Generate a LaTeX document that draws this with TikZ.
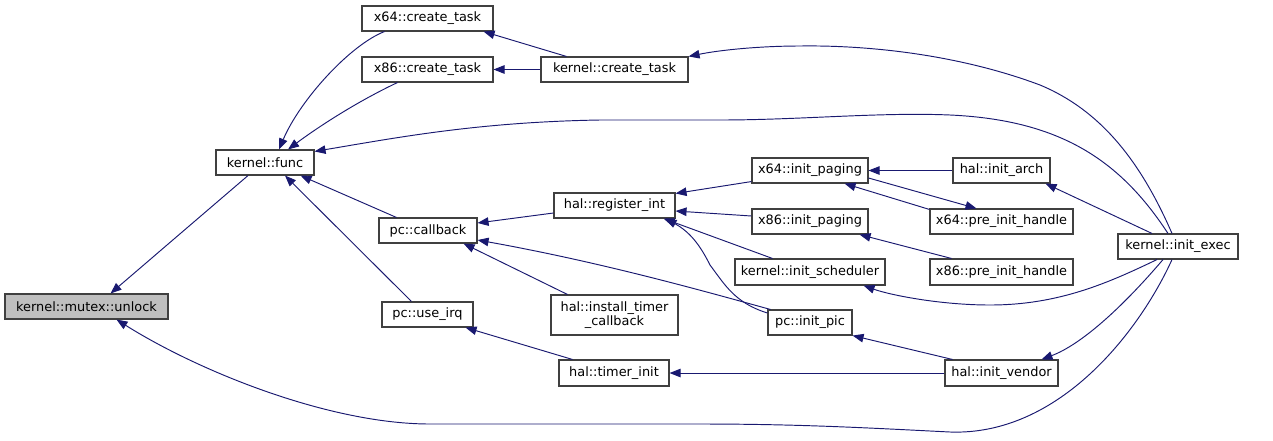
\documentclass[tikz,border=0pt]{standalone}
\usepackage{fontspec}
\setmainfont{DejaVu Sans}
\usetikzlibrary{arrows.meta}
\definecolor{edgeblue}{HTML}{191970}
\definecolor{nodeborder}{HTML}{404040}
\definecolor{hilite}{HTML}{BFBFBF}
\tikzset{
  box/.style={draw=nodeborder, line width=1.1pt, fill=white, inner sep=0pt, align=center,
    font=\fontsize{12.9}{14}\selectfont, text=black},
  edge/.style={draw=edgeblue, line width=0.95pt, -{Triangle[length=11pt,width=8.5pt]}, fill=none},
}
\begin{document}
\begin{tikzpicture}[x=1pt,y=-1pt]
\useasboundingbox (0,0) rectangle (1273,440);
% nodes
\node[box, fill=hilite, minimum width=163, minimum height=25] (unlock) at (86.5,306.5) {kernel::mutex::unlock};
\node[box, minimum width=98, minimum height=25] (func) at (265,162.5) {kernel::func};
\node[box, minimum width=131, minimum height=25] (x64ct) at (427.5,18.5) {x64::create\_task};
\node[box, minimum width=131, minimum height=25] (x86ct) at (427.5,69.5) {x86::create\_task};
\node[box, minimum width=147, minimum height=25] (kct) at (614.5,69.5) {kernel::create\_task};
\node[box, minimum width=98, minimum height=25] (cb) at (428,230.5) {pc::callback};
\node[box, minimum width=91, minimum height=25] (irq) at (427.5,314.5) {pc::use\_irq};
\node[box, minimum width=121, minimum height=25] (reg) at (614.5,205.5) {hal::register\_int};
\node[box, minimum width=127, minimum height=40] (itc) at (614.5,315) {hal::install\_timer\\\_callback};
\node[box, minimum width=110, minimum height=26] (ti) at (614,373) {hal::timer\_init};
\node[box, minimum width=116, minimum height=25] (x64ip) at (810,170.5) {x64::init\_paging};
\node[box, minimum width=116, minimum height=25] (x86ip) at (810,221.5) {x86::init\_paging};
\node[box, minimum width=150, minimum height=26] (sched) at (810,272) {kernel::init\_scheduler};
\node[box, minimum width=84, minimum height=25] (pic) at (810,322.5) {pc::init\_pic};
\node[box, minimum width=97, minimum height=25] (arch) at (1001.5,170.5) {hal::init\_arch};
\node[box, minimum width=143, minimum height=25] (x64pih) at (1001.5,221.5) {x64::pre\_init\_handle};
\node[box, minimum width=143, minimum height=26] (x86pih) at (1001.5,272) {x86::pre\_init\_handle};
\node[box, minimum width=113, minimum height=26] (vendor) at (1001.5,373) {hal::init\_vendor};
\node[box, minimum width=120, minimum height=25] (exec) at (1178,246.5) {kernel::init\_exec};
% edges
\draw[edge] ([xshift=-17]func.south) -- ([xshift=24]unlock.north);
\draw[edge] ([xshift=-6]exec.south) .. controls (1140,330) and (1060,436) .. (950,432)
   .. controls (870,428) and (800,424) .. (700,424) -- (430,424)
   .. controls (330,424) and (200,372) .. ([xshift=30]unlock.south);
\draw[edge] ([xshift=23]x64ct.south west) .. controls (350,45) and (300,100) .. ([xshift=14]func.north);
\draw[edge] ([xshift=36]x86ct.south west) .. controls (350,105) and (310,133) .. ([xshift=23]func.north);
\draw[edge] ([xshift=-10]exec.north) .. controls (1120,160) and (1060,120) .. (950,115)
   .. controls (880,112) and (800,120) .. (720,120) -- (600,120)
   .. controls (480,122) and (400,137) .. ([yshift=-2]func.north east);
\draw[edge] ([xshift=18]cb.north west) -- ([xshift=-14]func.south east);
\draw[edge] ([xshift=30]irq.north west) -- ([xshift=20]func.south);
\draw[edge] ([xshift=26]kct.north west) -- ([xshift=-10]x64ct.south east);
\draw[edge] (kct.west) -- (x86ct.east);
\draw[edge] ([xshift=-6]exec.north) .. controls (1140,160) and (1100,110) .. (1040,85)
   .. controls (960,55) and (870,45) .. (800,46)
   .. controls (760,46) and (720,50) .. (kct.north east);
\draw[edge] ([yshift=-7.5]reg.west) -- ([yshift=7.5]cb.east);
\draw[edge] ([xshift=17]itc.north west) -- ([xshift=-14]cb.south east);
\draw[edge] ([xshift=3]pic.north west) .. controls (700,290) and (600,262) .. ([yshift=-9.5]cb.east);
\draw[edge] ([xshift=14]ti.north west) -- ([xshift=-8]irq.south east);
\draw[edge] ([yshift=2]x64ip.south west) -- ([yshift=-1]reg.north east);
\draw[edge] ([yshift=5.5]x86ip.west) -- ([yshift=-5.5]reg.east);
\draw[edge] ([xshift=38]sched.north west) -- ([xshift=-12]reg.south east);
\draw[edge] ([yshift=9.5]pic.west) .. controls (735,303) and (725,285) .. (710,265)
   .. controls (700,245) and (690,232) .. ([xshift=-10]reg.south east);
\draw[edge] (vendor.west) -- (ti.east);
\draw[edge] (arch.west) -- (x64ip.east);
\draw[edge] ([yshift=-1]x64pih.north west) -- ([xshift=-24]x64ip.south east);
\draw[edge] ([yshift=-7.5]x64ip.east) -- ([xshift=-25]x64pih.north);
\draw[edge] ([xshift=22]x86pih.north west) -- ([xshift=-9]x86ip.south east);
\draw[edge] ([xshift=-21]exec.south) .. controls (1110,282) and (1060,305) .. (990,305)
   .. controls (940,305) and (890,295) .. ([xshift=-22]sched.south east);
\draw[edge] ([xshift=8]vendor.north west) -- (pic.south east);
\draw[edge] ([xshift=-26]exec.north) -- ([xshift=-5]arch.south east);
\draw[edge] ([xshift=-15]exec.south) .. controls (1120,310) and (1080,345) .. ([xshift=40]vendor.north);
\end{tikzpicture}
\end{document}
